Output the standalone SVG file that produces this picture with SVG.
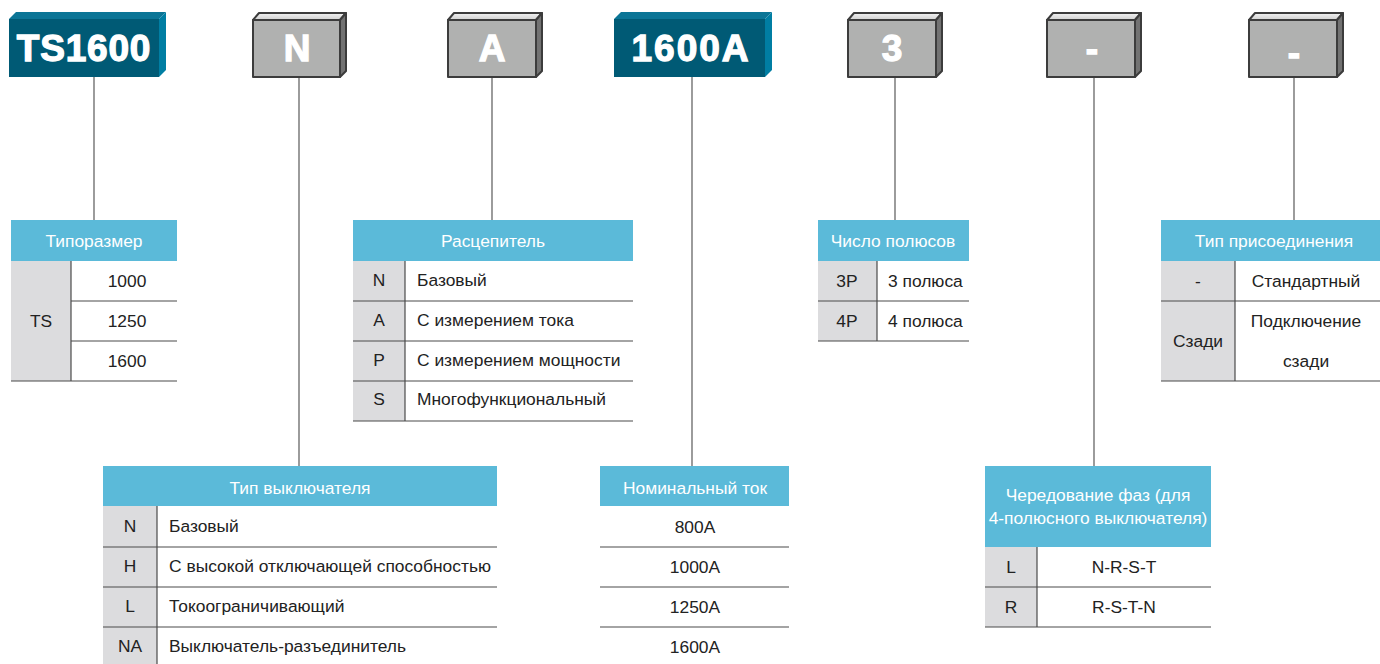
<svg xmlns="http://www.w3.org/2000/svg" width="1380" height="664" viewBox="0 0 1380 664">
<defs>
<linearGradient id="gtop" x1="0" y1="0" x2="0" y2="1"><stop offset="0" stop-color="#f2f2f2"/><stop offset="1" stop-color="#d0d0d0"/></linearGradient>
<style>
.bf{fill:#005a75}.bt{fill:#0b7596}.bs{fill:#007ea3}
.gf{fill:#b0b1b0;stroke:#3c3c3c;stroke-width:2;stroke-linejoin:round}
.gt{fill:url(#gtop);stroke:#3c3c3c;stroke-width:2;stroke-linejoin:round}
.gs{fill:#727272;stroke:#3c3c3c;stroke-width:2;stroke-linejoin:round}
.bx{font-family:"Liberation Sans",Arial,sans-serif;font-weight:bold;font-size:37px;fill:#fff;stroke:#fff;stroke-width:1.3;text-anchor:middle}
.hd{fill:#5bbad9}
.lc{fill:#dcdcde}
.ht{font-family:"Liberation Sans",Arial,sans-serif;font-size:17.4px;fill:#fff;text-anchor:middle}
.ct{font-family:"Liberation Sans",Arial,sans-serif;font-size:17.4px;fill:#222}
.m{text-anchor:middle}
.rl{stroke:#4a4a4a;stroke-width:1.2;fill:none}
.cn{stroke:#666;stroke-width:1.3;fill:none}
</style>
</defs>
<rect width="1380" height="664" fill="#fff"/>

<g id="connectors">
<line class="cn" x1="94" y1="77" x2="94" y2="220"/>
<line class="cn" x1="299" y1="77" x2="299" y2="466"/>
<line class="cn" x1="492" y1="77" x2="492" y2="220"/>
<line class="cn" x1="692" y1="77" x2="692" y2="466"/>
<line class="cn" x1="895" y1="77" x2="895" y2="220"/>
<line class="cn" x1="1094" y1="77" x2="1094" y2="466"/>
<line class="cn" x1="1294" y1="77" x2="1294" y2="220"/>
</g>

<g id="box-ts1600">
<polygon class="bt" points="9,19 16,12 166,12 159,19"/>
<polygon class="bs" points="159,19 166,12 166,70 159,77"/>
<rect class="bf" x="9" y="19" width="150" height="58"/>
<text class="bx" x="84" y="61" letter-spacing="0.8">TS1600</text>
</g>
<g id="box-n">
<polygon class="gt" points="253,20 259,13 346,13 340,20"/>
<polygon class="gs" points="340,20 346,13 346,71 340,77"/>
<rect class="gf" x="253" y="20" width="87" height="57"/>
<text class="bx" x="297" y="61">N</text>
</g>
<g id="box-a">
<polygon class="gt" points="448,20 454,13 542,13 536,20"/>
<polygon class="gs" points="536,20 542,13 542,71 536,77"/>
<rect class="gf" x="448" y="20" width="88" height="57"/>
<text class="bx" x="492" y="61">A</text>
</g>
<g id="box-1600a">
<polygon class="bt" points="614,19 621,12 772,12 765,19"/>
<polygon class="bs" points="765,19 772,12 772,70 765,77"/>
<rect class="bf" x="614" y="19" width="151" height="58"/>
<text class="bx" x="691" y="61" letter-spacing="2">1600A</text>
</g>
<g id="box-3">
<polygon class="gt" points="848,20 854,13 942,13 936,20"/>
<polygon class="gs" points="936,20 942,13 942,71 936,77"/>
<rect class="gf" x="848" y="20" width="88" height="57"/>
<text class="bx" x="892" y="61">3</text>
</g>
<g id="box-dash1">
<polygon class="gt" points="1047,20 1053,13 1141,13 1135,20"/>
<polygon class="gs" points="1135,20 1141,13 1141,71 1135,77"/>
<rect class="gf" x="1047" y="20" width="88" height="57"/>
<text class="bx" x="1092" y="61">-</text>
</g>
<g id="box-dash2">
<polygon class="gt" points="1249,20 1255,13 1343,13 1337,20"/>
<polygon class="gs" points="1337,20 1343,13 1343,71 1337,77"/>
<rect class="gf" x="1249" y="20" width="88" height="57"/>
<text class="bx" x="1294" y="65">-</text>
</g>

<g id="table-size">
<rect class="hd" x="11" y="220" width="166" height="41"/>
<text class="ht" x="94" y="247">Типоразмер</text>
<rect class="lc" x="11" y="261" width="60" height="120"/>
<line class="rl" x1="71" y1="261" x2="71" y2="381"/>
<line class="rl" x1="71" y1="301" x2="177" y2="301"/>
<line class="rl" x1="71" y1="341" x2="177" y2="341"/>
<line class="rl" x1="11" y1="381" x2="177" y2="381"/>
<text class="ct m" x="41" y="327">TS</text>
<text class="ct m" x="127" y="287">1000</text>
<text class="ct m" x="127" y="327">1250</text>
<text class="ct m" x="127" y="367">1600</text>
</g>

<g id="table-trip">
<rect class="hd" x="353" y="220" width="280" height="41"/>
<text class="ht" x="493" y="247">Расцепитель</text>
<rect class="lc" x="353" y="261" width="52" height="160"/>
<line class="rl" x1="405" y1="261" x2="405" y2="421"/>
<line class="rl" x1="353" y1="301" x2="633" y2="301"/>
<line class="rl" x1="353" y1="341" x2="633" y2="341"/>
<line class="rl" x1="353" y1="381" x2="633" y2="381"/>
<line class="rl" x1="353" y1="421" x2="633" y2="421"/>
<text class="ct m" x="379" y="286">N</text>
<text class="ct m" x="379" y="326">A</text>
<text class="ct m" x="379" y="366">P</text>
<text class="ct m" x="379" y="405">S</text>
<text class="ct" x="417" y="286">Базовый</text>
<text class="ct" x="417" y="326">С измерением тока</text>
<text class="ct" x="417" y="366">С измерением мощности</text>
<text class="ct" x="417" y="405">Многофункциональный</text>
</g>

<g id="table-breaker">
<rect class="hd" x="103" y="466" width="394" height="40"/>
<text class="ht" x="300" y="494">Тип выключателя</text>
<rect class="lc" x="103" y="506" width="54" height="158"/>
<line class="rl" x1="157" y1="506" x2="157" y2="664"/>
<line class="rl" x1="103" y1="547" x2="497" y2="547"/>
<line class="rl" x1="103" y1="587" x2="497" y2="587"/>
<line class="rl" x1="103" y1="627" x2="497" y2="627"/>
<text class="ct m" x="130" y="532">N</text>
<text class="ct m" x="130" y="572">H</text>
<text class="ct m" x="130" y="612">L</text>
<text class="ct m" x="130" y="652">NA</text>
<text class="ct" x="169" y="532">Базовый</text>
<text class="ct" x="169" y="572">С высокой отключающей способностью</text>
<text class="ct" x="169" y="612">Токоограничивающий</text>
<text class="ct" x="169" y="652">Выключатель-разъединитель</text>
</g>

<g id="table-current">
<rect class="hd" x="600" y="466" width="189" height="40"/>
<text class="ht" x="695" y="494">Номинальный ток</text>
<line class="rl" x1="600" y1="547" x2="789" y2="547"/>
<line class="rl" x1="600" y1="587" x2="789" y2="587"/>
<line class="rl" x1="600" y1="627" x2="789" y2="627"/>
<text class="ct m" x="695" y="533">800A</text>
<text class="ct m" x="695" y="573">1000A</text>
<text class="ct m" x="695" y="613">1250A</text>
<text class="ct m" x="695" y="653">1600A</text>
</g>

<g id="table-poles">
<rect class="hd" x="818" y="220" width="151" height="41"/>
<text class="ht" x="893" y="247">Число полюсов</text>
<rect class="lc" x="818" y="261" width="59" height="80"/>
<line class="rl" x1="877" y1="261" x2="877" y2="341"/>
<line class="rl" x1="818" y1="301" x2="969" y2="301"/>
<line class="rl" x1="818" y1="341" x2="969" y2="341"/>
<text class="ct m" x="847" y="287">3P</text>
<text class="ct m" x="847" y="327">4P</text>
<text class="ct" x="888" y="287">3 полюса</text>
<text class="ct" x="888" y="327">4 полюса</text>
</g>

<g id="table-phase">
<rect class="hd" x="985" y="466" width="226" height="81"/>
<text class="ht" x="1098" y="501">Чередование фаз (для</text>
<text class="ht" x="1098" y="524">4-полюсного выключателя)</text>
<rect class="lc" x="985" y="547" width="52" height="80"/>
<line class="rl" x1="1037" y1="547" x2="1037" y2="627"/>
<line class="rl" x1="985" y1="587" x2="1211" y2="587"/>
<line class="rl" x1="985" y1="627" x2="1211" y2="627"/>
<text class="ct m" x="1011" y="573">L</text>
<text class="ct m" x="1011" y="613">R</text>
<text class="ct m" x="1124" y="573">N-R-S-T</text>
<text class="ct m" x="1124" y="613">R-S-T-N</text>
</g>

<g id="table-connection">
<rect class="hd" x="1161" y="220" width="219" height="41"/>
<text class="ht" x="1274" y="247">Тип присоединения</text>
<rect class="lc" x="1161" y="261" width="74" height="120"/>
<line class="rl" x1="1235" y1="261" x2="1235" y2="381"/>
<line class="rl" x1="1161" y1="301" x2="1380" y2="301"/>
<line class="rl" x1="1161" y1="381" x2="1380" y2="381"/>
<text class="ct m" x="1198" y="287">-</text>
<text class="ct m" x="1198" y="347">Сзади</text>
<text class="ct m" x="1306" y="287">Стандартный</text>
<text class="ct m" x="1306" y="327">Подключение</text>
<text class="ct m" x="1306" y="367">сзади</text>
</g>
</svg>
